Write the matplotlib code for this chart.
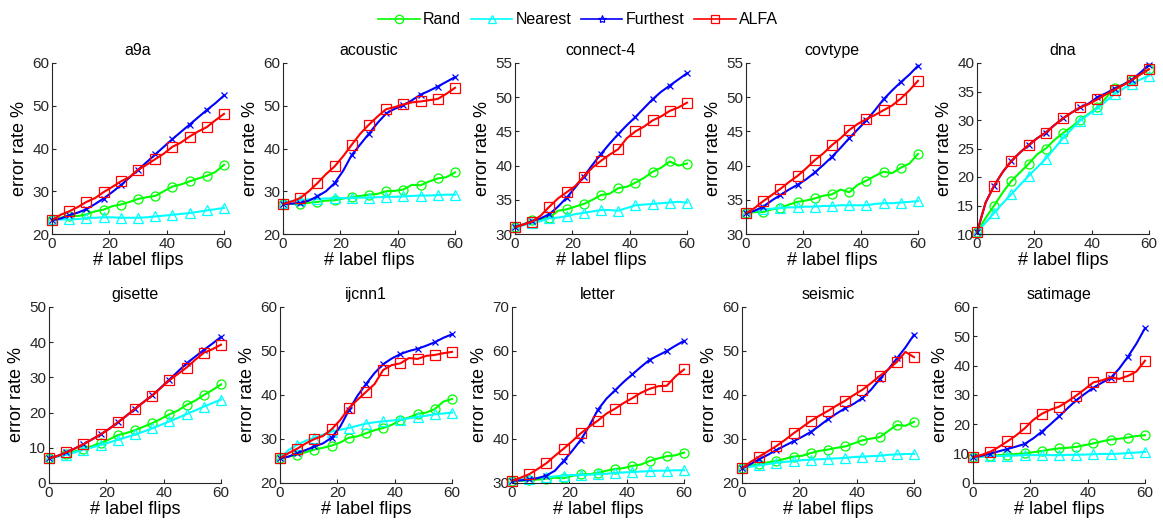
import matplotlib
matplotlib.use("Agg")
import matplotlib.pyplot as plt
from matplotlib.lines import Line2D

plt.rcParams['font.family'] = ['Liberation Sans', 'DejaVu Sans']

flips = [0, 3, 6, 9, 12, 15, 18, 21, 24, 27, 30, 33, 36, 39, 42, 45, 48, 51, 54, 57, 60]

datasets = ['a9a', 'acoustic', 'connect-4', 'covtype', 'dna',
            'gisette', 'ijcnn1', 'letter', 'seismic', 'satimage']

# error rate (%) per dataset: rand, nearest, furthest, alfa
a9a_rand = [23.2, 23.8, 24.3, 24.2, 24.6, 25.3, 25.7, 26.5, 26.9, 27.5, 28.2, 28.6, 28.9, 30.0, 31.1, 31.6, 32.3, 33.0, 33.6, 34.5, 36.2]
a9a_near = [23.5, 23.4, 23.4, 23.5, 23.7, 23.8, 23.9, 23.9, 23.8, 23.8, 23.8, 23.9, 24.1, 24.3, 24.5, 24.7, 24.9, 25.2, 25.5, 25.8, 26.1]
a9a_far = [23.2, 23.6, 24.4, 25.0, 25.8, 27.0, 28.3, 29.8, 31.4, 33.2, 35.0, 36.8, 38.6, 40.4, 42.2, 43.9, 45.6, 47.3, 49.0, 50.6, 52.4]
a9a_alfa = [23.2, 24.5, 25.3, 26.3, 27.5, 28.4, 29.8, 31.0, 32.3, 33.3, 35.0, 36.2, 37.5, 38.8, 40.4, 41.4, 42.8, 44.0, 45.0, 46.6, 48.1]

acoustic_rand = [27.0, 27.1, 27.0, 27.3, 27.5, 27.8, 27.9, 28.3, 28.6, 28.9, 29.2, 29.4, 30.0, 30.1, 30.4, 31.5, 31.4, 32.3, 33.0, 33.3, 34.4]
acoustic_near = [27.3, 27.7, 28.0, 28.1, 28.2, 28.3, 28.4, 28.4, 28.4, 28.5, 28.5, 28.6, 28.7, 28.7, 28.8, 28.9, 29.0, 29.0, 29.1, 29.2, 29.2]
acoustic_far = [27.0, 27.1, 27.3, 27.8, 28.8, 30.0, 31.9, 34.8, 38.5, 41.0, 43.5, 46.0, 48.2, 49.3, 50.1, 51.3, 52.6, 53.5, 54.5, 55.6, 56.7]
acoustic_alfa = [27.0, 27.6, 28.4, 30.0, 31.9, 34.0, 35.8, 38.2, 40.9, 43.5, 45.6, 47.5, 49.2, 49.7, 50.3, 50.8, 51.0, 51.3, 51.6, 52.8, 54.2]

connect4_rand = [31.0, 31.4, 32.0, 32.1, 32.4, 33.4, 33.6, 34.0, 34.4, 35.0, 35.7, 35.9, 36.7, 36.9, 37.5, 38.2, 39.1, 39.7, 40.6, 40.0, 40.3]
connect4_near = [31.0, 31.3, 31.6, 31.9, 32.3, 32.4, 32.6, 32.9, 33.1, 33.3, 33.5, 33.5, 33.4, 33.8, 34.2, 34.3, 34.4, 34.5, 34.6, 34.7, 34.6]
connect4_far = [31.0, 31.4, 31.9, 32.3, 32.9, 34.0, 35.3, 36.8, 38.4, 40.1, 41.7, 43.2, 44.6, 45.9, 47.1, 48.4, 49.7, 50.8, 51.7, 52.6, 53.5]
connect4_alfa = [31.0, 31.4, 31.8, 32.7, 34.0, 35.2, 36.1, 37.0, 38.4, 39.7, 40.7, 41.6, 42.4, 44.0, 45.0, 45.7, 46.6, 47.2, 48.0, 48.5, 49.2]

covtype_rand = [33.0, 33.2, 33.2, 33.6, 33.8, 34.3, 34.7, 34.9, 35.2, 35.6, 35.8, 36.5, 36.1, 37.2, 37.8, 38.5, 39.1, 38.9, 39.7, 40.3, 41.7]
covtype_near = [33.0, 33.4, 33.6, 33.7, 33.8, 33.9, 33.9, 34.0, 34.0, 34.1, 34.1, 34.2, 34.2, 34.2, 34.2, 34.4, 34.5, 34.5, 34.6, 34.7, 34.8]
covtype_far = [33.0, 33.4, 34.0, 34.9, 35.7, 36.5, 37.2, 38.0, 39.0, 40.1, 41.3, 42.6, 44.0, 45.3, 46.6, 48.1, 49.7, 51.0, 52.2, 53.3, 54.6]
covtype_alfa = [33.0, 33.8, 34.8, 35.7, 36.6, 37.6, 38.5, 39.6, 40.8, 41.8, 43.0, 44.0, 45.2, 46.1, 46.8, 47.4, 48.1, 48.8, 49.8, 51.0, 52.4]

dna_rand = [10.3, 12.8, 15.0, 17.3, 19.3, 20.8, 22.3, 24.0, 25.0, 26.5, 27.7, 28.8, 30.0, 31.1, 32.2, 33.9, 35.6, 36.2, 37.0, 38.0, 38.9]
dna_near = [10.3, 12.0, 13.7, 15.4, 17.0, 18.6, 20.2, 21.7, 23.2, 25.0, 26.8, 28.4, 29.9, 31.0, 32.0, 33.3, 34.6, 35.5, 36.4, 37.1, 37.8]
dna_far = [10.3, 15.5, 18.5, 20.9, 22.8, 24.3, 25.6, 26.8, 27.8, 29.1, 30.3, 31.3, 32.2, 32.9, 34.0, 34.7, 35.5, 36.2, 37.1, 38.3, 39.7]
dna_alfa = [10.3, 15.5, 18.5, 20.9, 22.8, 24.3, 25.6, 26.8, 27.8, 29.1, 30.3, 31.3, 32.2, 32.8, 33.6, 34.5, 35.3, 36.1, 37.0, 38.0, 38.9]

gisette_rand = [7.0, 7.6, 8.3, 9.0, 9.7, 10.5, 11.3, 12.4, 13.6, 14.2, 15.0, 16.0, 17.0, 18.2, 19.5, 20.6, 22.2, 23.4, 25.0, 26.4, 28.0]
gisette_near = [7.0, 7.5, 8.0, 8.7, 9.5, 10.1, 10.8, 11.5, 12.3, 13.0, 13.8, 14.6, 15.5, 16.5, 17.5, 18.5, 19.6, 20.6, 21.7, 22.7, 23.7]
gisette_far = [7.0, 7.7, 8.7, 9.8, 11.0, 12.4, 13.8, 15.4, 17.2, 19.1, 21.1, 23.0, 24.9, 27.1, 29.4, 31.7, 34.0, 35.9, 37.8, 39.6, 41.5]
gisette_alfa = [7.0, 7.7, 8.7, 9.8, 11.0, 12.4, 13.8, 15.4, 17.2, 19.1, 21.1, 23.0, 24.8, 27.0, 29.2, 31.0, 32.8, 35.0, 37.0, 38.0, 39.3]

ijcnn1_rand = [25.6, 26.0, 26.4, 27.0, 27.6, 28.0, 28.5, 29.2, 30.3, 30.6, 31.3, 32.0, 32.5, 33.2, 34.3, 34.9, 35.7, 36.0, 36.8, 38.5, 39.1]
ijcnn1_near = [25.6, 27.5, 28.7, 29.6, 30.3, 31.0, 31.7, 32.1, 32.5, 33.0, 33.5, 33.8, 34.0, 34.2, 34.4, 34.7, 35.0, 35.3, 35.6, 35.8, 36.0]
ijcnn1_far = [25.6, 26.0, 26.8, 27.5, 28.3, 29.0, 30.3, 32.8, 36.5, 39.8, 42.5, 45.0, 47.0, 48.3, 49.3, 50.0, 50.5, 51.2, 52.0, 53.0, 53.8]
ijcnn1_alfa = [25.6, 26.8, 27.8, 29.0, 30.0, 30.7, 32.2, 34.3, 37.0, 38.9, 40.7, 42.5, 45.7, 46.8, 47.2, 48.4, 48.2, 48.9, 49.1, 49.5, 49.8]

letter_rand = [30.5, 30.5, 30.6, 30.8, 31.0, 31.2, 31.1, 31.6, 32.0, 32.0, 32.3, 32.8, 33.2, 33.4, 33.9, 34.2, 35.0, 35.6, 36.1, 36.3, 36.9]
letter_near = [30.5, 30.8, 31.0, 31.2, 31.3, 31.5, 31.7, 31.8, 31.8, 31.9, 32.0, 32.1, 32.3, 32.4, 32.5, 32.6, 32.7, 32.8, 32.8, 32.9, 32.9]
letter_far = [30.5, 30.6, 30.8, 31.1, 31.7, 32.8, 35.0, 37.3, 39.8, 43.0, 46.7, 49.2, 51.1, 53.0, 54.7, 56.4, 58.0, 59.0, 60.0, 61.2, 62.3]
letter_alfa = [30.5, 31.2, 32.0, 33.2, 34.5, 36.2, 37.8, 39.5, 41.3, 42.8, 44.2, 45.8, 46.9, 48.2, 49.3, 50.5, 51.4, 52.0, 52.1, 54.2, 55.8]

seismic_rand = [23.3, 23.9, 24.3, 24.7, 25.0, 25.5, 26.0, 26.2, 26.8, 27.3, 27.6, 28.0, 28.3, 29.0, 29.7, 30.1, 30.4, 31.8, 33.2, 33.0, 33.9]
seismic_near = [23.3, 23.7, 24.0, 24.3, 24.6, 24.8, 25.0, 25.2, 25.3, 25.4, 25.5, 25.6, 25.7, 25.9, 26.0, 26.1, 26.2, 26.4, 26.5, 26.6, 26.6]
seismic_far = [23.3, 24.3, 25.4, 26.4, 27.5, 28.5, 29.5, 30.5, 31.6, 33.0, 34.5, 35.8, 37.0, 38.0, 39.3, 41.2, 43.6, 45.8, 48.3, 50.8, 53.7]
seismic_alfa = [23.3, 24.8, 26.0, 27.2, 28.4, 29.8, 31.3, 32.7, 34.1, 35.3, 36.4, 37.6, 38.7, 40.0, 41.2, 42.7, 44.3, 45.8, 47.5, 49.8, 48.6]

satimage_rand = [8.8, 9.0, 9.2, 9.5, 9.7, 9.9, 10.1, 10.5, 10.9, 11.4, 11.8, 12.0, 12.3, 12.9, 13.5, 14.2, 14.8, 15.1, 15.5, 16.0, 16.3]
satimage_near = [8.8, 9.0, 9.1, 9.2, 9.3, 9.4, 9.5, 9.5, 9.5, 9.5, 9.5, 9.6, 9.6, 9.7, 9.8, 9.9, 9.9, 10.0, 10.2, 10.4, 10.6]
satimage_far = [8.8, 9.3, 10.0, 10.8, 11.6, 12.4, 13.3, 15.2, 17.5, 20.0, 22.7, 25.5, 28.2, 30.4, 32.5, 34.2, 35.8, 39.0, 43.0, 47.5, 52.8]
satimage_alfa = [8.8, 9.6, 10.6, 12.3, 14.2, 16.2, 18.6, 21.5, 23.6, 25.0, 26.0, 27.8, 29.8, 32.0, 34.3, 35.0, 36.0, 35.5, 36.5, 38.0, 41.7]

results = [
    (a9a_rand, a9a_near, a9a_far, a9a_alfa),
    (acoustic_rand, acoustic_near, acoustic_far, acoustic_alfa),
    (connect4_rand, connect4_near, connect4_far, connect4_alfa),
    (covtype_rand, covtype_near, covtype_far, covtype_alfa),
    (dna_rand, dna_near, dna_far, dna_alfa),
    (gisette_rand, gisette_near, gisette_far, gisette_alfa),
    (ijcnn1_rand, ijcnn1_near, ijcnn1_far, ijcnn1_alfa),
    (letter_rand, letter_near, letter_far, letter_alfa),
    (seismic_rand, seismic_near, seismic_far, seismic_alfa),
    (satimage_rand, satimage_near, satimage_far, satimage_alfa),
]

ylims = [(20, 60), (20, 60), (30, 55), (30, 55), (10, 40),
         (0, 50), (20, 60), (30, 70), (20, 60), (0, 60)]
ysteps = [10, 10, 5, 5, 5, 10, 10, 10, 10, 10]

methods = ['Rand', 'Nearest', 'Furthest', 'ALFA']
colors = ['#00ff00', '#00ffff', '#0000ff', '#ff0000']
markers = ['o', '^', 'x', 's']
axcolor = '#262626'

fig = plt.figure(figsize=(11.63, 5.23), dpi=100)
W, H = 1163, 523
lefts = [[52, 283, 515, 746, 977], [49, 280, 512, 742, 973]]
rows = [(63, 234), (307, 483)]

for i, name in enumerate(datasets):
    r, c = divmod(i, 5)
    top, bot = rows[r]
    ax = fig.add_axes([lefts[r][c] / W, 1 - bot / H, 172 / W, (bot - top) / H])
    for k in range(4):
        ax.plot(flips, results[i][k], color=colors[k], lw=1.5, marker=markers[k],
                markevery=2, ms=6.5 if markers[k] != 'x' else 5, mfc='none',
                mew=0.9, clip_on=False)
    lo, hi = ylims[i]
    ax.set_xlim(0, 60)
    ax.set_ylim(lo, hi)
    ax.set_xticks([0, 20, 40, 60])
    ax.set_yticks(range(lo, hi + 1, ysteps[i]))
    ax.tick_params(direction='in', length=3, labelsize=11, colors=axcolor, pad=2)
    for s in ['top', 'right']:
        ax.spines[s].set_visible(False)
    for s in ['left', 'bottom']:
        ax.spines[s].set_color(axcolor)
        ax.spines[s].set_linewidth(0.8)
    ax.set_title(name, fontsize=11.5, pad=6)
    ax.set_xlabel('# label flips', fontsize=13, labelpad=1)
    ax.set_ylabel('error rate %', fontsize=13, labelpad=3)

handles = [Line2D([], [], color=colors[k], lw=1.2,
                  marker='*' if markers[k] == 'x' else markers[k],
                  ms=6, mfc='none', mew=0.9) for k in range(4)]
fig.legend(handles, methods, loc='center', bbox_to_anchor=(578 / W, 1 - 20 / H),
           ncol=4, frameon=False, fontsize=11.5, handlelength=2.6,
           handletextpad=0.2, columnspacing=0.6)

fig.savefig('out.png', dpi=100)
